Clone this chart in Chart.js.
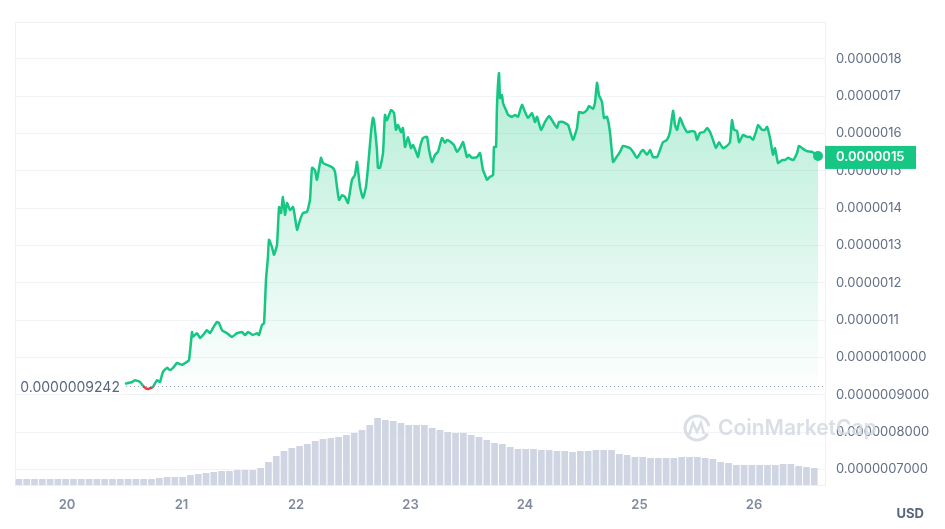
<!DOCTYPE html>
<html>
<head>
<meta charset="utf-8">
<script src="https://cdn.jsdelivr.net/npm/chart.js@4.4.1/dist/chart.umd.min.js"></script>
<style>
  html, body { margin: 0; padding: 0; background: #fff; }
  #wrap { width: 945px; height: 529px; }
</style>
</head>
<body>
<div id="wrap"><canvas id="chart" width="945" height="529"></canvas></div>
<script>
// price history (x = day of month, fractional)
const priceTimes = [
  20.515,20.568,20.594,20.638,20.672,20.707,20.751,20.786,20.812,20.838,20.873,20.900,20.926,20.961,21.004,21.048,21.066,21.092,21.100,21.135,
  21.162,21.188,21.223,21.249,21.275,21.310,21.328,21.354,21.397,21.441,21.485,21.528,21.555,21.581,21.624,21.659,21.677,21.703,21.721,21.738,
  21.755,21.764,21.790,21.808,21.834,21.852,21.869,21.886,21.904,21.921,21.948,21.974,21.991,22.009,22.035,22.061,22.096,22.122,22.140,22.166,
  22.183,22.218,22.236,22.271,22.297,22.323,22.341,22.358,22.376,22.402,22.428,22.454,22.489,22.515,22.533,22.559,22.585,22.611,22.629,22.655,
  22.672,22.681,22.707,22.716,22.734,22.760,22.777,22.795,22.830,22.856,22.873,22.891,22.917,22.934,22.952,22.978,23.004,23.022,23.048,23.066,
  23.083,23.109,23.144,23.162,23.188,23.214,23.240,23.275,23.301,23.319,23.354,23.380,23.406,23.432,23.459,23.493,23.511,23.537,23.581,23.607,
  23.633,23.651,23.668,23.694,23.721,23.729,23.747,23.755,23.773,23.782,23.799,23.808,23.834,23.852,23.886,23.913,23.939,23.974,24.000,24.026,
  24.061,24.087,24.105,24.140,24.175,24.210,24.245,24.279,24.297,24.332,24.376,24.419,24.454,24.472,24.507,24.541,24.559,24.594,24.611,24.629,
  24.646,24.672,24.690,24.716,24.742,24.769,24.795,24.830,24.856,24.891,24.917,24.943,24.978,25.013,25.031,25.066,25.092,25.118,25.153,25.179,
  25.205,25.240,25.266,25.293,25.310,25.328,25.354,25.380,25.415,25.459,25.485,25.502,25.528,25.563,25.590,25.616,25.642,25.668,25.694,25.729,
  25.764,25.790,25.808,25.825,25.852,25.869,25.904,25.939,25.965,25.991,26.017,26.035,26.070,26.096,26.114,26.140,26.166,26.183,26.210,26.245,
  26.271,26.297,26.341,26.376,26.393,26.428,26.463,26.507,26.559
];
const prices = [
  9.30e-7,9.34e-7,9.39e-7,9.34e-7,9.21e-7,9.15e-7,9.21e-7,9.39e-7,9.34e-7,9.61e-7,9.72e-7,9.66e-7,9.72e-7,9.85e-7,9.80e-7,9.88e-7,9.93e-7,10.68e-7,10.55e-7,10.65e-7,
  10.52e-7,10.60e-7,10.73e-7,10.65e-7,10.79e-7,10.95e-7,10.92e-7,10.73e-7,10.65e-7,10.55e-7,10.65e-7,10.68e-7,10.60e-7,10.68e-7,10.60e-7,10.65e-7,10.60e-7,10.87e-7,10.92e-7,12.08e-7,
  12.69e-7,13.15e-7,12.96e-7,12.75e-7,13.01e-7,14.03e-7,13.87e-7,14.30e-7,13.82e-7,14.14e-7,13.95e-7,14.03e-7,13.76e-7,13.42e-7,13.68e-7,13.87e-7,13.90e-7,14.22e-7,15.08e-7,15.02e-7,
  14.76e-7,15.35e-7,15.21e-7,15.16e-7,15.13e-7,15.08e-7,14.97e-7,14.57e-7,14.22e-7,14.35e-7,14.30e-7,14.14e-7,14.76e-7,14.89e-7,15.24e-7,14.57e-7,14.27e-7,14.57e-7,15.10e-7,16.02e-7,
  16.42e-7,16.36e-7,15.56e-7,15.08e-7,15.08e-7,15.48e-7,16.50e-7,16.36e-7,16.63e-7,16.55e-7,16.10e-7,16.23e-7,16.04e-7,16.15e-7,15.64e-7,15.91e-7,15.61e-7,15.69e-7,15.51e-7,15.37e-7,
  15.64e-7,15.88e-7,15.91e-7,15.56e-7,15.24e-7,15.43e-7,15.51e-7,15.88e-7,15.75e-7,15.83e-7,15.77e-7,15.69e-7,15.51e-7,15.61e-7,15.77e-7,15.37e-7,15.43e-7,15.35e-7,15.37e-7,15.48e-7,
  15.02e-7,14.89e-7,14.76e-7,14.84e-7,14.89e-7,15.64e-7,15.64e-7,16.71e-7,17.62e-7,16.95e-7,17.03e-7,16.82e-7,16.63e-7,16.50e-7,16.45e-7,16.50e-7,16.45e-7,16.77e-7,16.58e-7,16.42e-7,
  16.55e-7,16.31e-7,16.45e-7,16.10e-7,16.31e-7,16.47e-7,16.31e-7,16.15e-7,16.31e-7,16.31e-7,16.23e-7,15.83e-7,16.15e-7,16.58e-7,16.55e-7,16.63e-7,16.74e-7,16.66e-7,16.82e-7,17.36e-7,
  17.03e-7,16.85e-7,16.42e-7,16.45e-7,16.04e-7,15.24e-7,15.35e-7,15.51e-7,15.67e-7,15.64e-7,15.61e-7,15.51e-7,15.35e-7,15.51e-7,15.56e-7,15.43e-7,15.56e-7,15.37e-7,15.37e-7,15.56e-7,
  15.77e-7,15.83e-7,16.04e-7,16.61e-7,16.23e-7,16.10e-7,16.42e-7,16.23e-7,16.04e-7,16.07e-7,16.04e-7,15.83e-7,16.02e-7,16.04e-7,16.15e-7,16.04e-7,15.83e-7,15.61e-7,15.77e-7,15.61e-7,
  15.67e-7,15.77e-7,16.36e-7,16.10e-7,16.07e-7,15.77e-7,15.96e-7,15.91e-7,15.91e-7,15.83e-7,16.04e-7,16.23e-7,16.10e-7,16.10e-7,16.18e-7,15.88e-7,15.43e-7,15.61e-7,15.21e-7,15.29e-7,
  15.29e-7,15.35e-7,15.29e-7,15.48e-7,15.67e-7,15.59e-7,15.53e-7,15.51e-7,15.40e-7
];
// volume bars (relative units)
const volume = [
  6,6,6,6,6,6,6,6,6,6,6,6,6,6,6,6,6,6,7,8,
  8,8,10,11,12,13,14,14,15,15,15,17,23,29,34,37,39,41,44,46,
  47,48,50,52,55,60,67,65,64,62,60,60,60,57,55,53,52,52,50,48,
  45,42,41,38,36,36,36,35,35,34,34,33,34,34,35,35,35,31,30,28,
  28,27,27,27,27,28,28,28,27,26,23,22,20,20,20,20,20,20,21,21,
  19,18,17
];
const volStart = 19.58, volStep = 0.0681;

const basePrice = 9.242e-7;
const basePriceLabel = '0.0000009242';
const currentLabel = '0.0000015';
const yTickValues = [7e-7, 8e-7, 9e-7, 10e-7, 11e-7, 12e-7, 13e-7, 14e-7, 15e-7, 16e-7, 17e-7, 18e-7];
const yTickLabels = ['0.0000007000','0.0000008000','0.0000009000','0.0000010000','0.0000011','0.0000012',
                     '0.0000013','0.0000014','0.0000015','0.0000016','0.0000017','0.0000018'];
const xTickValues = [20, 21, 22, 23, 24, 25, 26];
const xTickLabels = ['20', '21', '22', '23', '24', '25', '26'];

const GREEN = '#16c784', RED = '#ea3943';
const FONT = 'Inter, "Noto Sans", sans-serif';

const linePts = priceTimes.map((t, i) => ({ x: t, y: prices[i] }));
const volPts = volume.map((v, i) => ({ x: volStart + i * volStep, y: v }));

const overlay = {
  id: 'overlay',
  beforeDraw(chart) {
    const { ctx, chartArea: a } = chart;
    ctx.save();
    ctx.strokeStyle = '#eef0f3';
    ctx.lineWidth = 1;
    ctx.strokeRect(a.left + 0.5, a.top + 0.5, a.right - a.left, a.bottom - a.top);
    ctx.restore();
  },
  afterDatasetsDraw(chart) {
    const { ctx, chartArea: a, scales } = chart;
    const yb = Math.round(scales.y.getPixelForValue(basePrice)) + 0.5;
    const x0 = scales.x.getPixelForValue(priceTimes[0]);
    ctx.save();
    ctx.strokeStyle = '#9aa3b5';
    ctx.lineWidth = 1;
    ctx.setLineDash([1, 3]);
    ctx.beginPath();
    ctx.moveTo(x0, yb);
    ctx.lineTo(a.right, yb);
    ctx.stroke();
    ctx.setLineDash([]);
    ctx.font = '14px ' + FONT;
    ctx.fillStyle = '#58667e';
    ctx.textAlign = 'right';
    ctx.textBaseline = 'middle';
    ctx.fillText(basePriceLabel, x0 - 6, yb + 1);
    ctx.restore();
  },
  afterDraw(chart) {
    const { ctx, chartArea: a, scales } = chart;
    const last = prices.length - 1;
    const px = scales.x.getPixelForValue(priceTimes[last]);
    const py = scales.y.getPixelForValue(prices[last]);
    ctx.save();
    // current price tag
    ctx.fillStyle = GREEN;
    ctx.fillRect(a.right, py - 10, 91, 23);
    ctx.fillStyle = '#fff';
    ctx.font = '600 13px ' + FONT;
    ctx.textAlign = 'left';
    ctx.textBaseline = 'middle';
    ctx.fillText(currentLabel, a.right + 11, py + 1.5);
    ctx.beginPath();
    ctx.arc(px, py, 5, 0, Math.PI * 2);
    ctx.fillStyle = GREEN;
    ctx.fill();
    // USD
    ctx.fillStyle = '#58667e';
    ctx.font = '700 13px ' + FONT;
    ctx.textAlign = 'right';
    ctx.fillText('USD', 924, 514);
    // watermark
    ctx.globalAlpha = 0.85;
    ctx.strokeStyle = '#d3d8e1';
    ctx.lineWidth = 3;
    ctx.beginPath();
    ctx.arc(697, 428, 12, 0.15 * Math.PI, 1.95 * Math.PI);
    ctx.stroke();
    ctx.lineWidth = 2.5;
    ctx.beginPath();
    ctx.moveTo(689, 435);
    ctx.lineTo(693, 423);
    ctx.lineTo(697, 432);
    ctx.lineTo(701, 423);
    ctx.lineTo(704, 434);
    ctx.stroke();
    ctx.fillStyle = '#d3d8e1';
    ctx.font = '600 21px ' + FONT;
    ctx.textAlign = 'left';
    ctx.fillText('CoinMarketCap', 718, 429);
    ctx.restore();
  }
};

new Chart(document.getElementById('chart'), {
  data: {
    datasets: [
      {
        type: 'line',
        data: linePts,
        borderColor: GREEN,
        borderWidth: 2.5,
        borderJoinStyle: 'round',
        borderCapStyle: 'round',
        tension: 0.15,
        pointRadius: 0,
        pointHoverRadius: 0,
        fill: 'start',
        backgroundColor(c) {
          const { chart } = c;
          const a = chart.chartArea;
          if (!a) return 'rgba(22,199,132,0.2)';
          const g = chart.ctx.createLinearGradient(0, 60, 0, 400);
          g.addColorStop(0, 'rgba(22,199,132,0.33)');
          g.addColorStop(1, 'rgba(22,199,132,0)');
          return g;
        },
        segment: {
          borderColor: s => (s.p0.parsed.y < basePrice && s.p1.parsed.y < basePrice) ? RED : undefined
        },
        yAxisID: 'y',
        order: 1
      },
      {
        type: 'bar',
        data: volPts,
        backgroundColor: '#cfd5e2',
        borderWidth: 0,
        barPercentage: 0.86,
        categoryPercentage: 1,
        yAxisID: 'yv',
        order: 2
      }
    ]
  },
  options: {
    responsive: false,
    animation: false,
    devicePixelRatio: 1,
    layout: { padding: { left: 15, top: 22, right: 0, bottom: 0 } },
    plugins: { legend: { display: false }, tooltip: { enabled: false } },
    scales: {
      x: {
        type: 'linear',
        min: 19.546,
        max: 26.62,
        offset: false,
        grid: { display: false },
        border: { display: false },
        afterBuildTicks(s) { s.ticks = xTickValues.map(v => ({ value: v })); },
        afterFit(s) { s.height = 44; },
        ticks: {
          padding: 4,
          color: '#808a9d',
          font: { family: FONT, size: 13, weight: '600' },
          callback: (v) => xTickLabels[xTickValues.indexOf(v)] || ''
        }
      },
      y: {
        type: 'linear',
        position: 'right',
        min: 6.58e-7,
        max: 18.99e-7,
        grid: { color: '#f1f3f6', drawTicks: false },
        border: { display: false },
        afterBuildTicks(s) { s.ticks = yTickValues.map(v => ({ value: v })); },
        afterFit(s) { s.width = 120; },
        ticks: {
          padding: 11,
          color: '#616e85',
          font: { family: FONT, size: 13 },
          callback: (v, i) => yTickLabels[i]
        }
      },
      yv: {
        type: 'linear',
        display: false,
        min: 0,
        max: 463
      }
    }
  },
  plugins: [overlay]
});
</script>
</body>
</html>
